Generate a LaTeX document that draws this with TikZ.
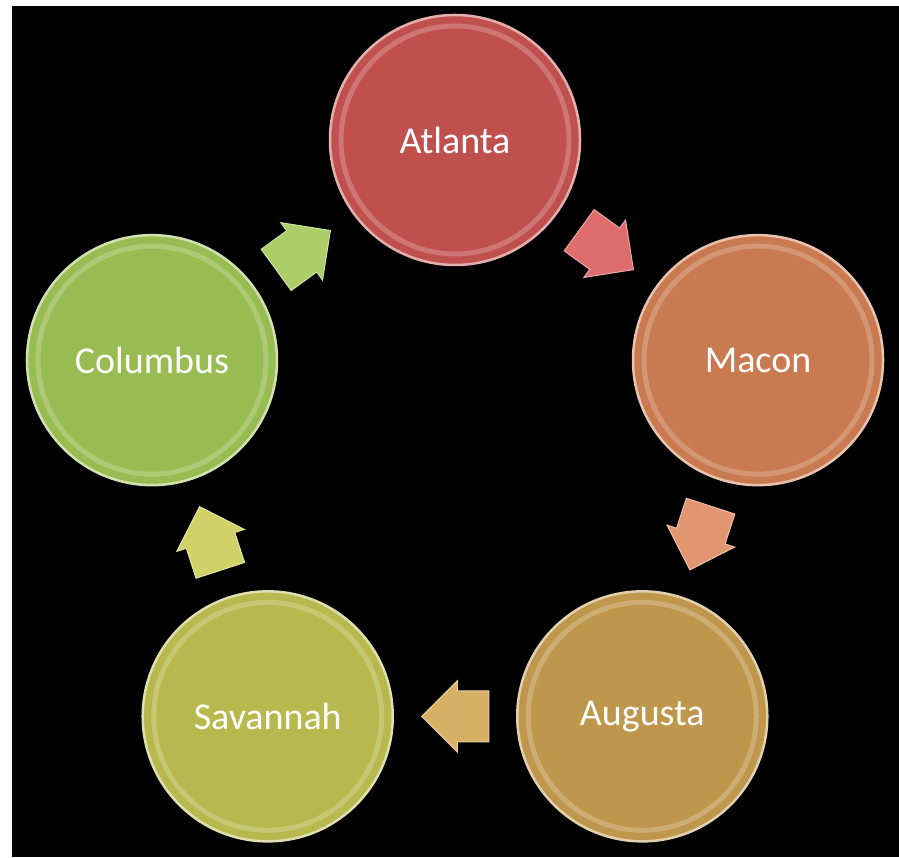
\documentclass[tikz,border=0pt]{standalone}
\usepackage{fontspec}
\setmainfont{Carlito}
\usetikzlibrary{calc,shapes.arrows}
\definecolor{atlred}{RGB}{192,80,77}
\definecolor{maconorange}{RGB}{201,122,80}
\definecolor{augold}{RGB}{190,150,76}
\definecolor{savolive}{RGB}{183,185,78}
\definecolor{colgreen}{RGB}{152,188,82}
\definecolor{atlarrow}{RGB}{222,108,108}
\definecolor{maconarrow}{RGB}{226,150,112}
\definecolor{auarrow}{RGB}{214,176,100}
\definecolor{savarrow}{RGB}{208,210,104}
\definecolor{colarrow}{RGB}{172,206,104}
\tikzset{
  city/.style={circle, fill=#1, draw=#1!45!white, line width=2.5pt,
    minimum size=250pt, inner sep=0pt, text=white, font=\fontsize{38}{44}\selectfont,
    path picture={\draw[white, opacity=.22, line width=5pt]
      (path picture bounding box.center) circle (114pt);}},
  cyclearrow/.style={single arrow, fill=#1, draw=#1!60!white, line width=1pt,
    minimum height=67pt, inner xsep=0pt, inner ysep=25pt,
    single arrow head extend=10pt, single arrow head indent=0pt}
}

\begin{document}
\begin{tikzpicture}[x=1pt, y=1pt]
  \useasboundingbox (0,0) rectangle (899,857);
  \fill[white] (0,0) rectangle (899,857);
  \fill[black] (12,0) rectangle (899,851);
  \coordinate (hub) at (455,398.4);
  % the five cities round the cycle
  \node[city=atlred] (atlanta) at ($(hub)+(90:318.6pt)$) {Atlanta};
  \node[city=maconorange] (macon) at ($(hub)+(18:318.6pt)$) {Macon};
  \node[city=augold] (augusta) at ($(hub)+(-54:318.6pt)$) {Augusta};
  \node[city=savolive] (savannah) at ($(hub)+(-126:318.6pt)$) {Savannah};
  \node[city=colgreen] (columbus) at ($(hub)+(162:318.6pt)$) {Columbus};
  % block arrows between them, set back a little so they sit centred
  \node[cyclearrow=atlarrow, rotate=-36] (atl2mac) at ($($(atlanta)!0.5!(macon)$)!13pt!(atlanta)$) {};
  \node[cyclearrow=maconarrow, rotate=-108] (mac2aug) at ($($(macon)!0.5!(augusta)$)!13pt!(macon)$) {};
  \node[cyclearrow=auarrow, rotate=180] (aug2sav) at ($($(augusta)!0.5!(savannah)$)!13pt!(augusta)$) {};
  \node[cyclearrow=savarrow, rotate=108] (sav2col) at ($($(savannah)!0.5!(columbus)$)!13pt!(savannah)$) {};
  \node[cyclearrow=colarrow, rotate=36] (col2atl) at ($($(columbus)!0.5!(atlanta)$)!13pt!(columbus)$) {};
\end{tikzpicture}
\end{document}
